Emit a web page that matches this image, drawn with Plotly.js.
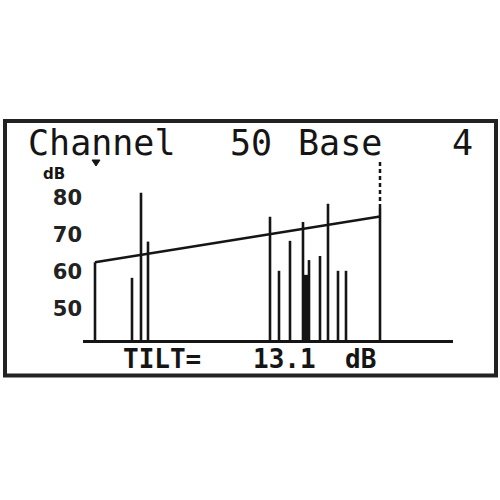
<!DOCTYPE html>
<html>
<head>
<meta charset="utf-8">
<script src="https://cdn.plot.ly/plotly-3.0.1.min.js"></script>
<style>html,body{margin:0;padding:0;background:#fff;}#chart{width:500px;height:500px;}</style>
</head>
<body>
<div id="chart"></div>
<script>
// ---- data ----
const channelPos = [12, 49, 58, 65, 187, 196, 207, 220, 222, 224, 226, 237, 245, 255, 263, 297];
const levelDb    = [62.6, 58.4, 81.4, 68.2, 74.9, 60.3, 68.4, 73.5, 59.2, 59.2, 63.2, 64.3, 78.4, 60.3, 60.3, 77.3];
const tiltDb     = [62.6, 75.0];
const yTicks     = [50, 60, 70, 80];
const yTickText  = ['50', '60', '70', '80'];
const titleParts = ['Channel', '50', 'Base', '4'];
const tiltParts  = ['TILT=', '13.1', 'dB'];
const unitLabel  = 'dB';

// ---- layout helpers (pixel -> paper) ----
const L = 83, R = 453, T = 160, B = 340;
const PX = x => (x - L) / (R - L);
const PY = y => (B - y) / (B - T);
const ink = '#151515';
const yMin = 41.6, yMax = 90.25;

const bars = {
  type: 'bar', x: channelPos, y: levelDb, width: 2.6,
  marker: {color: ink, line: {width: 0}}, hoverinfo: 'skip'
};
const tilt = {
  type: 'scatter', mode: 'lines',
  x: [channelPos[0], channelPos[channelPos.length - 1]], y: tiltDb,
  line: {color: ink, width: 2.5}, hoverinfo: 'skip'
};
const lastX = channelPos[channelPos.length - 1];
const marker = {
  type: 'scatter', mode: 'lines',
  x: [lastX, lastX], y: [levelDb[levelDb.length - 1], yMax],
  line: {color: ink, width: 2.5, dash: '4px,3px'}, hoverinfo: 'skip'
};

const mono = 'DejaVu Sans Mono';
const titleX = [26, 228, 296, 450];
const tiltX = [121, 251, 343];
const annotations = [];
titleParts.forEach((t, i) => annotations.push({
  text: t, xref: 'paper', yref: 'paper', x: PX(titleX[i]), y: PY(143),
  xanchor: 'left', yanchor: 'middle', showarrow: false,
  font: {family: mono, size: 35, color: ink}
}));
tiltParts.forEach((t, i) => annotations.push({
  text: t, xref: 'paper', yref: 'paper', x: PX(tiltX[i]), y: PY(359),
  xanchor: 'left', yanchor: 'middle', showarrow: false,
  font: {family: mono, size: 26, weight: 'bold', color: ink}
}));
annotations.push({
  text: unitLabel, xref: 'paper', yref: 'paper', x: PX(54), y: PY(174),
  xanchor: 'center', yanchor: 'middle', showarrow: false,
  font: {family: 'DejaVu Sans', size: 15, weight: 'bold', color: ink}
});

const layout = {
  width: 500, height: 500,
  margin: {l: L, r: 500 - R, t: T, b: 500 - B, pad: 0},
  paper_bgcolor: '#fff', plot_bgcolor: '#fff',
  showlegend: false, barmode: 'overlay',
  xaxis: {range: [0, R - L], showline: true, linewidth: 3, linecolor: ink,
          showticklabels: false, ticks: '', showgrid: false, zeroline: false, fixedrange: true},
  yaxis: {range: [yMin, yMax], tickvals: yTicks, ticktext: yTickText, ticks: '',
          showline: false, showgrid: false, zeroline: false, fixedrange: true,
          tickfont: {family: 'DejaVu Sans', size: 21, weight: 'bold', color: '#222'}},
  shapes: [
    {type: 'rect', xref: 'paper', yref: 'paper',
     x0: PX(5), x1: PX(496), y0: PY(121), y1: PY(375.5),
     line: {color: '#222', width: 4}, fillcolor: 'rgba(0,0,0,0)'},
    {type: 'path', xref: 'paper', yref: 'paper',
     path: 'M' + PX(92) + ',' + PY(160) + ' L' + PX(100) + ',' + PY(160) + ' L' + PX(96) + ',' + PY(166) + ' Z',
     line: {color: ink, width: 1}, fillcolor: ink}
  ],
  annotations: annotations
};

Plotly.newPlot('chart', [bars, tilt, marker], layout, {displayModeBar: false, staticPlot: true});
</script>
</body>
</html>
